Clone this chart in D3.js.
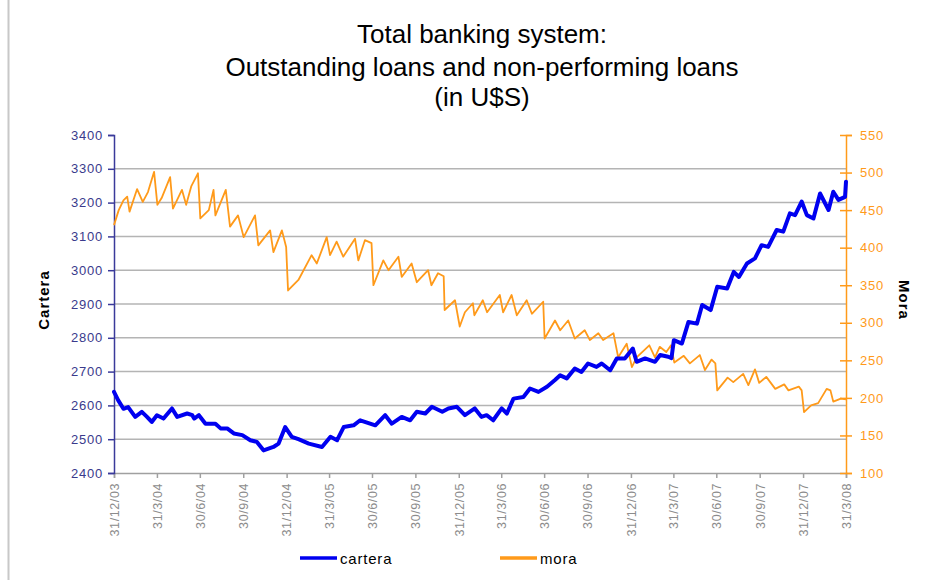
<!DOCTYPE html>
<html>
<head>
<meta charset="utf-8">
<script src="https://cdn.jsdelivr.net/npm/d3@7"></script>
<style>
  body { margin: 0; background: #fff; }
  text { font-family: Arial, "Liberation Sans", sans-serif; }
</style>
</head>
<body>
<div id="chart"></div>
<script>
// Data
let carteraDates = [
  "2003-12-31", "2004-01-09", "2004-01-20", "2004-01-30", "2004-02-14", "2004-02-28", "2004-03-10", "2004-03-20",
  "2004-03-31", "2004-04-14", "2004-05-02", "2004-05-13", "2004-06-03", "2004-06-14", "2004-06-18", "2004-06-28",
  "2004-07-12", "2004-08-02", "2004-08-13", "2004-08-27", "2004-09-10", "2004-09-28", "2004-10-15", "2004-10-29",
  "2004-11-12", "2004-12-03", "2004-12-14", "2004-12-28", "2005-01-11", "2005-01-25", "2005-02-16", "2005-03-16",
  "2005-04-03", "2005-04-17", "2005-05-01", "2005-05-22", "2005-06-05", "2005-06-26", "2005-07-07", "2005-07-28",
  "2005-08-11", "2005-09-01", "2005-09-19", "2005-10-03", "2005-10-21", "2005-11-04", "2005-11-26", "2005-12-09",
  "2005-12-27", "2006-01-13", "2006-02-03", "2006-02-17", "2006-02-28", "2006-03-14", "2006-04-01", "2006-04-12",
  "2006-04-26", "2006-05-17", "2006-05-31", "2006-06-18", "2006-07-06", "2006-07-23", "2006-08-03", "2006-08-17",
  "2006-09-03", "2006-09-17", "2006-10-01", "2006-10-19", "2006-10-30", "2006-11-17", "2006-12-01", "2006-12-18",
  "2007-01-04", "2007-01-12", "2007-01-30", "2007-02-20", "2007-03-03", "2007-03-20", "2007-03-27", "2007-04-01",
  "2007-04-18", "2007-05-02", "2007-05-20", "2007-05-31", "2007-06-18", "2007-07-02", "2007-07-23", "2007-08-06",
  "2007-08-17", "2007-09-03", "2007-09-20", "2007-10-04", "2007-10-18", "2007-11-05", "2007-11-19", "2007-12-03",
  "2007-12-14", "2007-12-28", "2008-01-08", "2008-01-22", "2008-02-05", "2008-02-23", "2008-03-04", "2008-03-15",
  "2008-03-29", "2008-03-31"
];
let carteraValues = [
  2640, 2615, 2590, 2595, 2566, 2581, 2566, 2551,
  2571, 2561, 2591, 2566, 2576, 2571, 2561, 2571,
  2546, 2546, 2532, 2532, 2517, 2512, 2497, 2492,
  2467, 2477, 2487, 2536, 2507, 2500, 2487, 2477,
  2507, 2497, 2536, 2541, 2556, 2546, 2541, 2571,
  2546, 2566, 2556, 2581, 2576, 2596, 2581, 2591,
  2596, 2571, 2591, 2566, 2571, 2556, 2591, 2576,
  2620, 2625, 2650, 2640, 2655, 2675, 2689, 2680,
  2709, 2699, 2724, 2714, 2724, 2704, 2739, 2739,
  2768, 2729, 2739, 2729, 2749, 2744, 2740, 2793,
  2783, 2847, 2842, 2897, 2882, 2951, 2946, 2995,
  2980, 3020, 3035, 3074, 3069, 3119, 3114, 3168,
  3163, 3203, 3163, 3153, 3227, 3178, 3232, 3208,
  3217, 3262
];

let moraDates = [
  "2003-12-31", "2004-01-10", "2004-01-20", "2004-01-28", "2004-02-02", "2004-02-18", "2004-03-01", "2004-03-12",
  "2004-03-25", "2004-04-01", "2004-04-10", "2004-04-28", "2004-05-04", "2004-05-23", "2004-06-01", "2004-06-12",
  "2004-06-26", "2004-07-01", "2004-07-19", "2004-07-29", "2004-08-02", "2004-08-24", "2004-09-02", "2004-09-19",
  "2004-10-01", "2004-10-25", "2004-11-01", "2004-11-26", "2004-12-03", "2004-12-21", "2004-12-30", "2005-01-03",
  "2005-01-25", "2005-02-22", "2005-03-05", "2005-03-26", "2005-04-02", "2005-04-16", "2005-04-30", "2005-05-25",
  "2005-06-01", "2005-06-15", "2005-06-29", "2005-07-03", "2005-07-24", "2005-08-04", "2005-08-25", "2005-09-01",
  "2005-09-22", "2005-10-03", "2005-10-27", "2005-11-03", "2005-11-17", "2005-11-29", "2005-12-01", "2005-12-23",
  "2006-01-02", "2006-01-13", "2006-01-30", "2006-02-02", "2006-02-20", "2006-03-01", "2006-03-28", "2006-04-04",
  "2006-04-22", "2006-05-03", "2006-05-24", "2006-06-04", "2006-06-28", "2006-07-01", "2006-07-23", "2006-08-03",
  "2006-08-20", "2006-09-03", "2006-09-24", "2006-10-05", "2006-10-23", "2006-11-02", "2006-11-24", "2006-12-04",
  "2006-12-22", "2007-01-02", "2007-01-12", "2007-02-08", "2007-02-20", "2007-03-02", "2007-03-16", "2007-03-26",
  "2007-04-02", "2007-04-22", "2007-05-05", "2007-05-26", "2007-06-06", "2007-06-20", "2007-06-28", "2007-07-02",
  "2007-07-24", "2007-08-05", "2007-08-26", "2007-09-06", "2007-09-20", "2007-09-29", "2007-10-14", "2007-11-02",
  "2007-11-21", "2007-11-30", "2007-12-22", "2007-12-28", "2008-01-02", "2008-01-17", "2008-02-01", "2008-02-19",
  "2008-02-27", "2008-03-04", "2008-03-20", "2008-03-31"
];
let moraValues = [
  430, 450, 463, 468, 448, 478, 461, 474,
  501, 457, 466, 494, 452, 477, 457, 482,
  499, 439, 450, 477, 443, 477, 428, 443,
  414, 443, 403, 423, 394, 423, 401, 343,
  357, 390, 379, 414, 390, 408, 388, 412,
  383, 410, 406, 350, 383, 370, 388, 361,
  379, 354, 370, 350, 366, 362, 317, 330,
  295, 314, 326, 310, 330, 314, 337, 314,
  337, 310, 330, 312, 328, 279, 303, 290,
  303, 279, 290, 277, 286, 277, 286, 254,
  272, 241, 254, 270, 254, 268, 261, 270,
  247, 256, 246, 257, 237, 251, 246, 210,
  227, 221, 232, 217, 238, 220, 228, 212,
  218, 210, 215, 210, 181, 190, 193, 212,
  210, 195, 199, 198
];

// Axis ticks
let xTickLabels = ["31/12/03", "31/3/04", "30/6/04", "30/9/04", "31/12/04", "31/3/05", "30/6/05", "30/9/05",
  "31/12/05", "31/3/06", "30/6/06", "30/9/06", "31/12/06", "31/3/07", "30/6/07", "30/9/07", "31/12/07", "31/3/08"];
let leftTicks = [2400, 2500, 2600, 2700, 2800, 2900, 3000, 3100, 3200, 3300, 3400];
let rightTicks = [100, 150, 200, 250, 300, 350, 400, 450, 500, 550];

let titleLines = ["Total banking system:", "Outstanding loans and non-performing loans", "(in U$S)"];

// Define variables
let svgWidth = 931;
let svgHeight = 580;

let margin = {
  top: 135,
  right: 85,
  bottom: 107,
  left: 114
};

let width = svgWidth - margin.left - margin.right;
let height = svgHeight - margin.top - margin.bottom;

let parseDate = d3.timeParse("%Y-%m-%d");
let parseTick = d3.timeParse("%d/%m/%y");

let cartera = carteraDates.map((d, i) => ({ date: parseDate(d), value: carteraValues[i] }));
let mora = moraDates.map((d, i) => ({ date: parseDate(d), value: moraValues[i] }));
let xTicks = xTickLabels.map(parseTick);

let svg = d3.select("#chart")
  .append("svg")
  .attr("width", svgWidth)
  .attr("height", svgHeight);

// outer frame edge
svg.append("line")
  .attr("x1", 8.5).attr("x2", 8.5)
  .attr("y1", 0).attr("y2", svgHeight)
  .attr("stroke", "#c8c8c8")
  .attr("stroke-width", 2);

// title
svg.append("g")
  .selectAll("text")
  .data(titleLines)
  .enter()
  .append("text")
  .attr("x", 482)
  .attr("y", (d, i) => [43, 76, 106][i])
  .attr("text-anchor", "middle")
  .attr("font-size", "26px")
  .attr("fill", "#000")
  .text(d => d);

let chartGroup = svg.append("g")
  .attr("transform", `translate(${margin.left}, ${margin.top})`);

// scales
let xScale = d3.scaleTime()
  .domain([parseTick("31/12/03"), parseTick("31/3/08")])
  .range([0, width]);

let yLeft = d3.scaleLinear().domain([2400, 3400]).range([height, 0]);
let yRight = d3.scaleLinear().domain([100, 550]).range([height, 0]);

// gridlines
chartGroup.append("g")
  .selectAll("line")
  .data(leftTicks.filter(d => d > 2400 && d < 3400))
  .enter()
  .append("line")
  .attr("x1", 0)
  .attr("x2", width)
  .attr("y1", d => yLeft(d))
  .attr("y2", d => yLeft(d))
  .attr("stroke", "#b4b4b4")
  .attr("stroke-width", 1.5);

// bottom axis
let bottomAxis = d3.axisBottom(xScale)
  .tickValues(xTicks)
  .tickSize(5)
  .tickFormat((d, i) => xTickLabels[i]);

let xAxis = chartGroup.append("g")
  .attr("transform", `translate(0, ${height})`)
  .call(bottomAxis);

xAxis.select(".domain").attr("stroke", "#a0a0a0").attr("stroke-width", 1.5);
xAxis.selectAll(".tick line").attr("stroke", "#a0a0a0").attr("stroke-width", 1.5);
xAxis.selectAll(".tick text")
  .attr("transform", "rotate(-90)")
  .attr("text-anchor", "end")
  .attr("x", -10)
  .attr("y", 0)
  .attr("dy", ".35em")
  .attr("fill", "#8c8c8c")
  .attr("font-size", "12.5px")
  .attr("letter-spacing", "0.6px")
  .attr("font-family", "Arial, sans-serif");

// left axis
let leftAxis = d3.axisLeft(yLeft).tickValues(leftTicks).tickSize(6).tickPadding(5).tickFormat(d3.format("d"));
let yAxisL = chartGroup.append("g").call(leftAxis);
yAxisL.select(".domain").attr("stroke", "#3a3a9a").attr("stroke-width", 1.5);
yAxisL.selectAll(".tick line").attr("stroke", "#3a3a9a").attr("stroke-width", 1.5);
yAxisL.selectAll(".tick text")
  .attr("fill", "#3a3a8c")
  .attr("font-size", "13px")
  .attr("letter-spacing", "0.8px")
  .attr("font-family", "Arial, sans-serif");

// right axis (ticks cross the line)
let rightAxis = d3.axisRight(yRight).tickValues(rightTicks).tickSize(6).tickPadding(8).tickFormat(d3.format("d"));
let yAxisR = chartGroup.append("g")
  .attr("transform", `translate(${width}, 0)`)
  .call(rightAxis);
yAxisR.select(".domain").attr("stroke", "#ff9a1a").attr("stroke-width", 1.5);
yAxisR.selectAll(".tick line")
  .attr("x1", -6)
  .attr("stroke", "#ff9a1a")
  .attr("stroke-width", 1.5);
yAxisR.selectAll(".tick text")
  .attr("fill", "#ff9a1a")
  .attr("font-size", "13px")
  .attr("letter-spacing", "0.8px")
  .attr("font-family", "Arial, sans-serif");

// axis titles
chartGroup.append("text")
  .attr("transform", "rotate(-90)")
  .attr("x", 0 - (height / 2) + 4)
  .attr("y", -65)
  .attr("text-anchor", "middle")
  .attr("font-size", "15px")
  .attr("letter-spacing", "1px")
  .attr("font-weight", "bold")
  .text("Cartera");

chartGroup.append("text")
  .attr("transform", `translate(${width + 53}, ${height / 2 - 4}) rotate(90)`)
  .attr("text-anchor", "middle")
  .attr("font-size", "15px")
  .attr("letter-spacing", "1px")
  .attr("font-weight", "bold")
  .text("Mora");

// lines
let carteraLine = d3.line()
  .x(d => xScale(d.date))
  .y(d => yLeft(d.value));

let moraLine = d3.line()
  .x(d => xScale(d.date))
  .y(d => yRight(d.value));

chartGroup.append("path")
  .datum(mora)
  .attr("fill", "none")
  .attr("stroke", "#ff9a1a")
  .attr("stroke-width", 1.8)
  .attr("stroke-linejoin", "round")
  .attr("d", moraLine);

chartGroup.append("path")
  .datum(cartera)
  .attr("fill", "none")
  .attr("stroke", "#0000f0")
  .attr("stroke-width", 4)
  .attr("stroke-linejoin", "round")
  .attr("stroke-linecap", "round")
  .attr("d", carteraLine);

// legend
let legendItems = [
  { name: "cartera", color: "#0000f0", x: 300 },
  { name: "mora", color: "#ff9a1a", x: 500 }
];

let legend = svg.append("g").selectAll("g")
  .data(legendItems)
  .enter()
  .append("g")
  .attr("transform", d => `translate(${d.x}, 558)`);

legend.append("line")
  .attr("x1", 0).attr("x2", 37)
  .attr("y1", 0).attr("y2", 0)
  .attr("stroke", d => d.color)
  .attr("stroke-width", 3.5);

legend.append("text")
  .attr("x", 40)
  .attr("y", 5.5)
  .attr("font-size", "15px")
  .attr("letter-spacing", "0.8px")
  .attr("fill", "#000")
  .text(d => d.name);
</script>
</body>
</html>
